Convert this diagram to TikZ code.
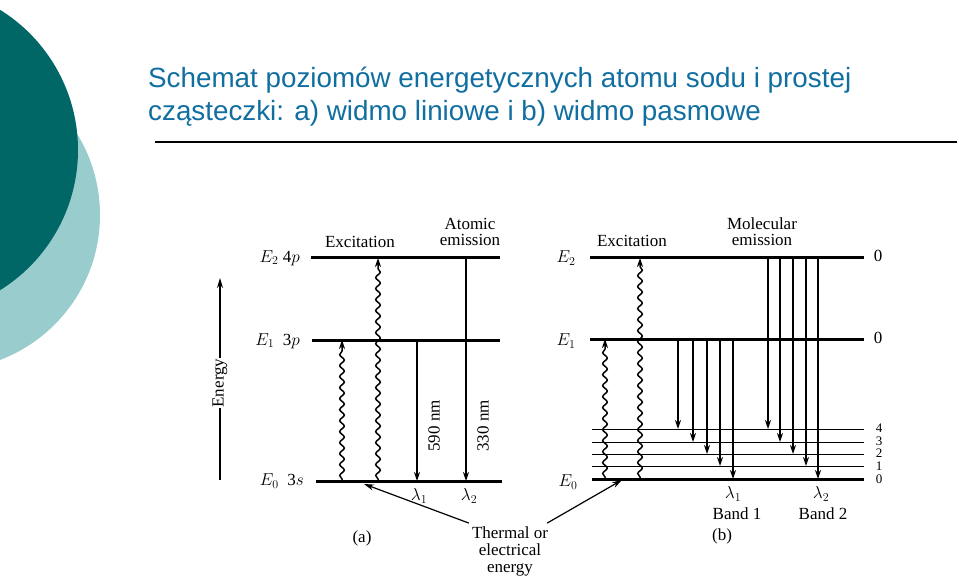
\documentclass[tikz,border=0pt]{standalone}
\usepackage{fontspec}
\setmainfont{Liberation Serif}
\newfontfamily\titlefont{Liberation Sans}
\usetikzlibrary{decorations.pathmorphing,arrows.meta}
\definecolor{darkteal}{RGB}{0,102,102}
\definecolor{lightteal}{RGB}{153,204,204}
\definecolor{titleblue}{RGB}{16,110,160}
\tikzset{
  level/.style={line width=3pt},
  sublevel/.style={line width=1pt},
  emit/.style={line width=1.4pt,-{Stealth[length=9pt,width=6pt]}},
  wave/.style={line width=1.5pt,-{Stealth[length=9pt,width=6pt]},decorate,decoration={snake,amplitude=2.3pt,segment length=11pt,pre length=2pt,post length=8pt}},
  lbl/.style={font=\fontsize{17}{18}\selectfont,inner sep=1pt},
}
\begin{document}
\begin{tikzpicture}[x=1pt,y=-1pt]
\useasboundingbox (0,0) rectangle (959,580);
\fill[lightteal] (-55,215) circle (155);
\fill[darkteal] (-87,150) circle (165);
\node[anchor=base west,text=titleblue,font=\titlefont\fontsize{27.8}{30}\selectfont,inner sep=0pt] (t1) at (148,88) {Schemat poziomów energetycznych atomu sodu i prostej};
\node[anchor=base west,text=titleblue,font=\titlefont\fontsize{27.8}{30}\selectfont,inner sep=0pt] (t2) at (148,121) {cząsteczki: a) widmo liniowe i b) widmo pasmowe};
\draw[line width=1.2pt] (155,142) -- (957,142);
% energy axis
\coordinate (ebot) at (220,480);
\coordinate (etop) at (220,278);
\draw[line width=1.3pt,-{Stealth[length=10pt,width=6pt]}] (ebot) -- (etop);
\node[lbl,fill=white,rotate=90] (energy) at (220,383) {Energy};
% (a)
\draw[level] (311,258) coordinate (a2l) -- (500,258) coordinate (a2r);
\draw[level] (312,340) coordinate (a1l) -- (500,340) coordinate (a1r);
\draw[level] (316,481) coordinate (a0l) -- (502,481) coordinate (a0r);
\node[lbl,anchor=east] (la2) at (301,258) {$E_2$ 4$p$};
\node[lbl,anchor=east] (la1) at (301,341) {$E_1$\ \ 3$p$};
\node[lbl,anchor=east] (la0) at (305,481) {$E_0$\ \ 3$s$};
\coordinate (wa1) at (342,481); \coordinate (wa1t) at (342,340);
\coordinate (wa2) at (378,481); \coordinate (wa2t) at (378,258);
\draw[wave] (wa1) -- (wa1t);
\draw[wave] (wa2) -- (wa2t);
\coordinate (ea1) at (417,340); \coordinate (ea1b) at (417,481);
\coordinate (ea2) at (466,258); \coordinate (ea2b) at (466,481);
\draw[emit] (ea1) -- (ea1b);
\draw[emit] (ea2) -- (ea2b);
\node[lbl,rotate=90] (nm1) at (434,426) {590 nm};
\node[lbl,rotate=90] (nm2) at (483,426) {330 nm};
\node[lbl] (lam1) at (419,496) {$\lambda_1$};
\node[lbl] (lam2) at (469,496) {$\lambda_2$};
\node[lbl] (exa) at (360,242) {Excitation};
\node[lbl,align=center,font=\fontsize{17}{16}\selectfont] (atem) at (470,232) {Atomic\\emission};
\node[lbl] (capa) at (362,538) {(a)};
\node[lbl,align=center,font=\fontsize{17}{17}\selectfont] (therm) at (510,551) {Thermal or\\electrical\\energy};
\coordinate (ha) at (364,484);
\coordinate (hb) at (622,480);
\draw[line width=1.2pt,-{Stealth[length=10pt,width=6pt]}] (therm.north west) ++(-2,-2) -- (ha);
\draw[line width=1.2pt,-{Stealth[length=10pt,width=6pt]}] (therm.north east) ++(-2,-2) -- (hb);
% (b)
\draw[level] (590,258) -- (864,258);
\draw[level] (590,339) -- (864,339);
\foreach \y/\v in {429/4,442/3,454/2,466/1}
  \draw[sublevel] (592,\y) -- (864,\y);
\draw[level] (592,479) -- (864,479);
\node[lbl] (b2z) at (878,256) {0};
\node[lbl] (b1z) at (878,338) {0};
\foreach \y/\v in {428/4,441/3,453/2,466/1,479/0}
  \node[font=\fontsize{13}{13}\selectfont,inner sep=0pt] (v\v) at (879,\y) {\v};
\node[lbl] (lb2) at (566,258) {$E_2$};
\node[lbl] (lb1) at (566,341) {$E_1$};
\node[lbl] (lb0) at (568,482) {$E_0$};
\draw[wave] (605,479) -- (605,339);
\draw[wave] (640,479) -- (640,258);
\foreach \x/\y in {678/429,693/442,707/454,720/466,733/479}
  \draw[emit] (\x,339) -- (\x,\y);
\foreach \x/\y in {768/429,780/442,793/454,806/466,818/479}
  \draw[emit] (\x,258) -- (\x,\y);
\node[lbl] (exb) at (632,241) {Excitation};
\node[lbl,align=center,font=\fontsize{17}{16}\selectfont] (molem) at (762,232) {Molecular\\emission};
\node[lbl] (lb1l) at (733,494) {$\lambda_1$};
\node[lbl] (lb2l) at (821,494) {$\lambda_2$};
\node[lbl] (band1) at (737,514) {Band 1};
\node[lbl] (band2) at (823,514) {Band 2};
\node[lbl] (capb) at (722,536) {(b)};
\end{tikzpicture}
\end{document}
